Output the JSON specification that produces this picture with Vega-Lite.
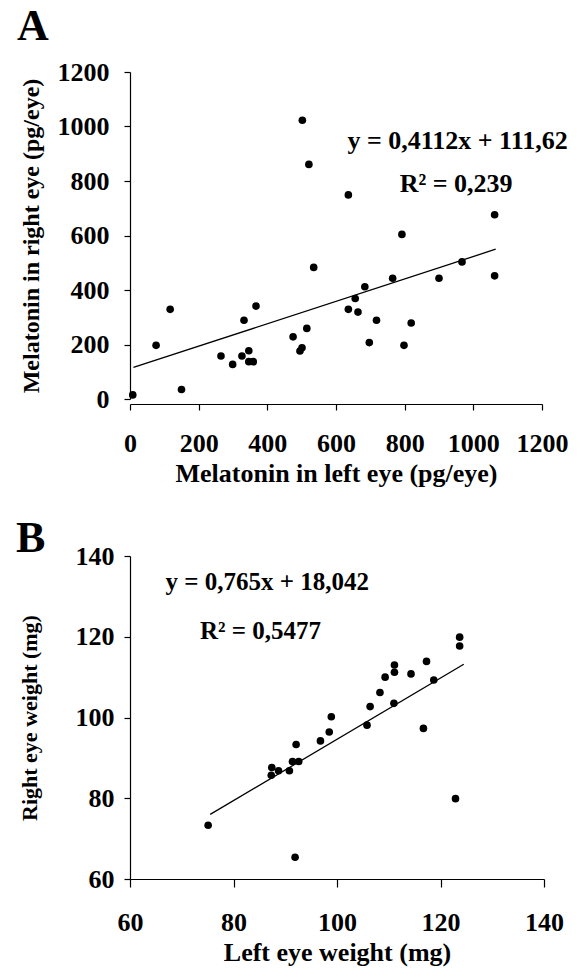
{
  "$schema": "https://vega.github.io/schema/vega-lite/v6.json",
  "background": "white",
  "padding": {"left": 16, "top": 5, "right": 5, "bottom": 5},
  "spacing": 31,
  "config": {
    "font": "Liberation Serif",
    "view": {"stroke": null},
    "axis": {
      "grid": false,
      "domainColor": "black",
      "tickColor": "black",
      "labelColor": "black",
      "titleColor": "black",
      "labelFont": "Liberation Serif",
      "titleFont": "Liberation Serif",
      "labelFontSize": 26,
      "labelFontWeight": "bold",
      "titleFontSize": 26,
      "titleFontWeight": "bold",
      "domainWidth": 1.2,
      "tickWidth": 1.2,
      "labelOverlap": false,
      "labelFlush": false,
      "format": "d"
    },
    "title": {"font": "Liberation Serif", "fontSize": 44, "fontWeight": "bold", "color": "black", "anchor": "start", "frame": "bounds"}
  },
  "datasets": {
    "A": [
      {"left": 8, "right": 15}, {"left": 76, "right": 197}, {"left": 117, "right": 329}, {"left": 150, "right": 35},
      {"left": 265, "right": 158}, {"left": 299, "right": 127}, {"left": 326, "right": 158}, {"left": 332, "right": 289},
      {"left": 346, "right": 177}, {"left": 346, "right": 137}, {"left": 359, "right": 137}, {"left": 367, "right": 341},
      {"left": 475, "right": 228}, {"left": 495, "right": 176}, {"left": 501, "right": 188}, {"left": 515, "right": 259},
      {"left": 502, "right": 1023}, {"left": 521, "right": 861}, {"left": 535, "right": 483}, {"left": 636, "right": 749},
      {"left": 636, "right": 329}, {"left": 656, "right": 369}, {"left": 664, "right": 319}, {"left": 684, "right": 412},
      {"left": 697, "right": 207}, {"left": 718, "right": 289}, {"left": 765, "right": 443}, {"left": 792, "right": 604},
      {"left": 798, "right": 197}, {"left": 819, "right": 279}, {"left": 900, "right": 443}, {"left": 967, "right": 503},
      {"left": 1062, "right": 676}, {"left": 1062, "right": 452}
    ],
    "B": [
      {"left": 75.1, "right": 73.3}, {"left": 91.9, "right": 65.4}, {"left": 87.3, "right": 85.7}, {"left": 87.4, "right": 87.6},
      {"left": 88.7, "right": 86.8}, {"left": 90.8, "right": 86.8}, {"left": 91.4, "right": 89.1}, {"left": 92.6, "right": 89.1},
      {"left": 92.1, "right": 93.3}, {"left": 96.8, "right": 94.2}, {"left": 98.5, "right": 96.4}, {"left": 98.9, "right": 100.2},
      {"left": 105.8, "right": 98.1}, {"left": 106.4, "right": 102.7}, {"left": 108.3, "right": 106.2}, {"left": 109.3, "right": 110.0},
      {"left": 111.0, "right": 103.5}, {"left": 111.1, "right": 113.0}, {"left": 111.1, "right": 111.2}, {"left": 114.3, "right": 110.8},
      {"left": 116.7, "right": 97.3}, {"left": 117.3, "right": 113.9}, {"left": 118.7, "right": 109.3}, {"left": 122.9, "right": 79.9},
      {"left": 123.7, "right": 119.9}, {"left": 123.7, "right": 117.7}
    ]
  },
  "vconcat": [
    {
      "title": {"text": "A", "offset": 10, "dx": -2},
      "width": 412,
      "height": 327,
      "layer": [
        {
          "data": {"name": "A"},
          "mark": {"type": "circle", "size": 58, "opacity": 1, "color": "black"},
          "encoding": {
            "x": {"field": "left", "type": "quantitative", "scale": {"domain": [0, 1200], "nice": false},
                  "axis": {"title": "Melatonin in left eye (pg/eye)", "values": [0, 200, 400, 600, 800, 1000, 1200], "offset": 5, "tickSize": 6, "labelPadding": 20, "titlePadding": 4}},
            "y": {"field": "right", "type": "quantitative", "scale": {"domain": [0, 1200], "nice": false},
                  "axis": {"title": "Melatonin in right eye (pg/eye)", "titleFontSize": 24, "values": [0, 200, 400, 600, 800, 1000, 1200], "tickSize": 6, "labelPadding": 15, "titlePadding": 14}}
          }
        },
        {
          "data": {"values": [{"left": 10, "right": 115.7}, {"left": 1065, "right": 549.6}]},
          "mark": {"type": "line", "color": "black", "strokeWidth": 1.3},
          "encoding": {
            "x": {"field": "left", "type": "quantitative"},
            "y": {"field": "right", "type": "quantitative"}
          }
        },
        {
          "data": {"values": [{"left": 954, "right": 947, "label": "y = 0,4112x + 111,62"}, {"left": 950, "right": 789, "label": "R² = 0,239"}]},
          "mark": {"type": "text", "fontSize": 26, "fontWeight": "bold", "font": "Liberation Serif", "color": "black"},
          "encoding": {
            "x": {"field": "left", "type": "quantitative"},
            "y": {"field": "right", "type": "quantitative"},
            "text": {"field": "label"}
          }
        }
      ]
    },
    {
      "title": {"text": "B", "offset": -18, "dx": -2},
      "width": 414,
      "height": 323,
      "layer": [
        {
          "data": {"name": "B"},
          "mark": {"type": "circle", "size": 58, "opacity": 1, "color": "black"},
          "encoding": {
            "x": {"field": "left", "type": "quantitative", "scale": {"domain": [60, 140], "nice": false},
                  "axis": {"title": "Left eye weight (mg)", "values": [60, 80, 100, 120, 140], "tickSize": 8, "labelPadding": 22, "titlePadding": 4}},
            "y": {"field": "right", "type": "quantitative", "scale": {"domain": [60, 140], "nice": false},
                  "axis": {"title": "Right eye weight (mg)", "titleFontSize": 22, "values": [60, 80, 100, 120, 140], "tickSize": 6, "labelPadding": 10, "titlePadding": 34}}
          }
        },
        {
          "data": {"values": [{"left": 75.5, "right": 76.0}, {"left": 124.5, "right": 113.2}]},
          "mark": {"type": "line", "color": "black", "strokeWidth": 1.3},
          "encoding": {
            "x": {"field": "left", "type": "quantitative"},
            "y": {"field": "right", "type": "quantitative"}
          }
        },
        {
          "data": {"values": [{"left": 86.5, "right": 133.5, "label": "y = 0,765x + 18,042"}, {"left": 85.2, "right": 121.4, "label": "R² = 0,5477"}]},
          "mark": {"type": "text", "fontSize": 25, "fontWeight": "bold", "font": "Liberation Serif", "color": "black"},
          "encoding": {
            "x": {"field": "left", "type": "quantitative"},
            "y": {"field": "right", "type": "quantitative"},
            "text": {"field": "label"}
          }
        }
      ]
    }
  ]
}
